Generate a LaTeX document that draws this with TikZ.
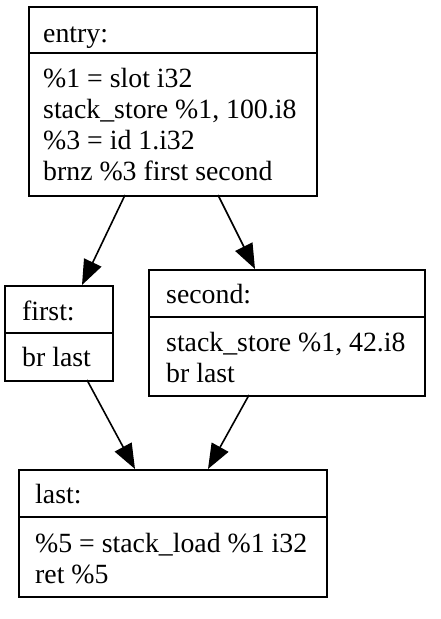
\documentclass[tikz,border=0pt]{standalone}
\usepackage{fontspec}
\setmainfont{Liberation Serif}
\usetikzlibrary{arrows.meta}
\begin{document}
\begin{tikzpicture}[x=1pt,y=-1pt,
  box/.style={draw=black, line width=1.8pt, anchor=north west, inner sep=0pt, rectangle},
  txt/.style={anchor=base west, inner sep=0pt, font=\fontsize{27.8}{31}\selectfont},
  sep/.style={line width=1.8pt},
  edge/.style={line width=1.6pt, -{Triangle[length=25pt,width=19pt]}}]
\useasboundingbox (0,0) rectangle (441,619);
% entry
\node[box, minimum width=288pt, minimum height=189pt] (entry) at (28,6) {};
\draw[sep] (28,53) -- (316,53);
\node[txt] (e0) at (43,42) {entry:};
\node[txt] (e1) at (43,87) {\%1 = slot i32};
\node[txt] (e2) at (43,118) {stack\_store \%1, 100.i8};
\node[txt] (e3) at (43,149) {\%3 = id 1.i32};
\node[txt] (e4) at (43,180) {brnz \%3 first second};
% first
\node[box, minimum width=108pt, minimum height=95pt] (first) at (4,285) {};
\draw[sep] (4,333) -- (112,333);
\node[txt] (f0) at (22,320) {first:};
\node[txt] (f1) at (22,366) {br last};
% second
\node[box, minimum width=276pt, minimum height=126pt] (second) at (148,269) {};
\draw[sep] (148,317) -- (424,317);
\node[txt] (s0) at (166,303) {second:};
\node[txt] (s1) at (166,351) {stack\_store \%1, 42.i8};
\node[txt] (s2) at (166,382) {br last};
% last
\node[box, minimum width=308pt, minimum height=127pt] (last) at (18,469) {};
\draw[sep] (18,517) -- (326,517);
\node[txt] (l0) at (35,503) {last:};
\node[txt] (l1) at (35,552) {\%5 = stack\_load \%1 i32};
\node[txt] (l2) at (35,583) {ret \%5};
% edges
\coordinate (a1) at (125,195); \coordinate (a2) at (82,285);
\coordinate (b1) at (218,195); \coordinate (b2) at (255,269);
\coordinate (c1) at (87,380);  \coordinate (c2) at (135,469);
\coordinate (d1) at (249,395); \coordinate (d2) at (208,469);
\draw[edge] (a1) -- (a2);
\draw[edge] (b1) -- (b2);
\draw[edge] (c1) -- (c2);
\draw[edge] (d1) -- (d2);
\end{tikzpicture}
\end{document}
